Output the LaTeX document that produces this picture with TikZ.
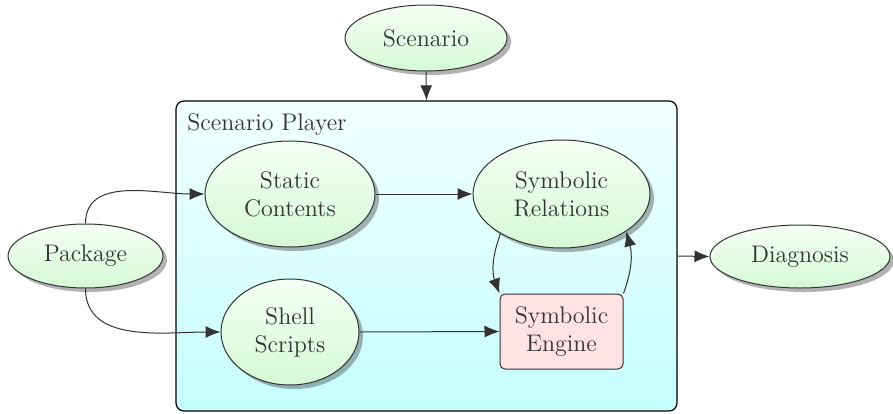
\documentclass[tikz,border=0pt]{standalone}
\usetikzlibrary{shapes.geometric,arrows.meta,shadows}
\definecolor{elltop}{HTML}{F4FFF4}
\definecolor{ellbot}{HTML}{D6F9D6}
\definecolor{boxtop}{HTML}{F2FFFF}
\definecolor{boxbot}{HTML}{C6FEFE}
\definecolor{engfill}{HTML}{FFE3E4}
\definecolor{ink}{HTML}{333333}
\tikzset{
  ellnode/.style={ellipse, draw=ink, line width=0.5pt, top color=elltop, bottom color=ellbot,
    drop shadow={shadow xshift=2pt, shadow yshift=-2pt, fill=black, opacity=0.3},
    text=ink, font=\large, align=center, inner sep=0pt},
  engbox/.style={rectangle, rounded corners=2.5pt, draw=ink, line width=0.5pt, fill=engfill,
    text=ink, font=\large, align=center, inner sep=0pt},
  playerbox/.style={rectangle, rounded corners=4pt, draw=black, line width=0.6pt,
    top color=boxtop, bottom color=boxbot, inner sep=0pt},
  arr/.style={draw=ink, line width=0.5pt, -{Latex[length=7.5pt,width=6pt]}}
}
\begin{document}
\begin{tikzpicture}[x=0.5pt,y=-0.5pt]
\useasboundingbox (0,0) rectangle (893,413);
\node[playerbox, minimum width=250.5pt, minimum height=155pt] (box) at (426.5,256) {};
\node[anchor=base west, inner sep=0pt, text=ink, font=\large] (boxlabel) at (187,130) {Scenario Player};
\node[ellnode, minimum width=81pt, minimum height=33pt] (scen) at (426,38) {Scenario};
\node[ellnode, minimum width=77.5pt, minimum height=32pt] (pkg) at (85.5,256) {Package};
\node[ellnode, minimum width=90pt, minimum height=31.5pt] (diag) at (800,256.5) {Diagnosis};
\node[ellnode, minimum width=85pt, minimum height=53pt] (static) at (290,194) {Static\\Contents};
\node[ellnode, minimum width=88.5pt, minimum height=54pt] (rel) at (561.5,194) {Symbolic\\Relations};
\node[ellnode, minimum width=69pt, minimum height=53pt] (shell) at (290,332) {Shell\\Scripts};
\node[engbox, minimum width=61.5pt, minimum height=37.5pt] (engine) at (561.5,331.5) {Symbolic\\Engine};
\draw[arr] (scen.south) -- (box.north);
\draw[arr] (box.east) -- (diag.west);
\draw[arr] (pkg.north) to[out=90,in=180] (static.west);
\draw[arr] (pkg.south) to[out=-90,in=180] (shell.west);
\draw[arr] (static.east) -- (rel.west);
\draw[arr] (shell.east) -- (engine.west);
\draw[arr] (rel.213) to[out=250,in=110] (engine.north west);
\draw[arr] (engine.north east) to[out=70,in=-75] (rel.-30);
\end{tikzpicture}
\end{document}
